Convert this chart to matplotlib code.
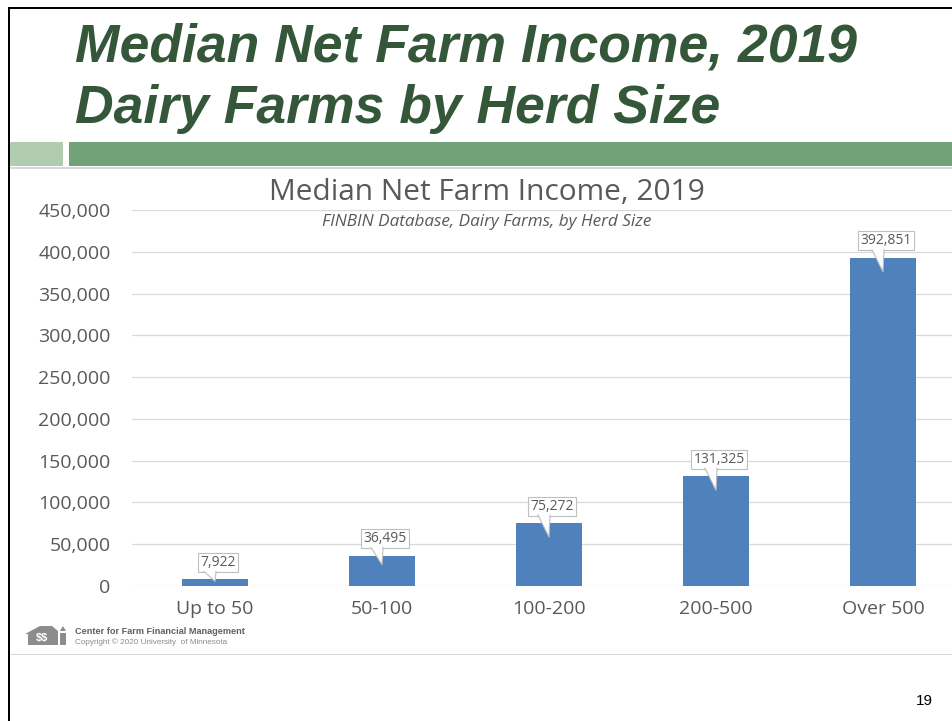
import matplotlib.pyplot as plt
from matplotlib.patches import Polygon, Rectangle
from matplotlib.transforms import Affine2D

# data
herd_sizes = ['Up to 50', '50-100', '100-200', '200-500', 'Over 500']
net_income = [7922, 36495, 75272, 131325, 392851]
y_ticks = [0, 50000, 100000, 150000, 200000, 250000, 300000, 350000, 400000, 450000]

W, H = 952, 721
fig = plt.figure(figsize=(W / 100, H / 100), dpi=100)
# pixel coords measured from top-left of the slide
T = Affine2D().scale(1, -1).translate(0, H)

# --- slide frame / header
fig.add_artist(Rectangle((8, 7), W, 2, transform=T, color='black', lw=0))
fig.add_artist(Rectangle((8, 7), 2, H, transform=T, color='black', lw=0))
fig.add_artist(Rectangle((10, 142), 53, 24, transform=T, color='#B0CDB0', lw=0))
fig.add_artist(Rectangle((69, 142), W - 69, 24, transform=T, color='#72A378', lw=0))
fig.add_artist(Rectangle((10, 167), W, 1.5, transform=T, color='#d9d9d9', lw=0))
fig.add_artist(Rectangle((10, 654), W, 1.2, transform=T, color='#d9d9d9', lw=0))

title_kw = dict(transform=T, fontsize=38.5, fontstyle='italic', fontweight='bold',
                family='Liberation Sans', color='#34573A', va='baseline', ha='left')
fig.text(75, 61, 'Median Net Farm Income, 2019', **title_kw)
fig.text(75, 123, 'Dairy Farms by Herd Size', **title_kw)

fig.text(924, 705, '19', transform=T, fontsize=11, family='Liberation Sans',
         ha='center', va='baseline')

# --- logo + credit
fig.add_artist(Polygon([(25, 634), (40, 626), (52, 626), (58, 631), (58, 645),
                        (28, 645), (28, 634)], transform=T, color='#8c8c8c', lw=0))
fig.text(42, 641, r'\$\$', transform=T, fontsize=8, fontweight='bold', color='white',
         ha='center', va='baseline', family='Liberation Sans')
fig.add_artist(Rectangle((60, 633), 6, 12, transform=T, color='#8c8c8c', lw=0))
fig.add_artist(Polygon([(60, 631), (63, 626), (66, 631)], transform=T,
                       color='#8c8c8c', lw=0))
fig.text(75, 634, 'Center for Farm Financial Management', transform=T, fontsize=6.6,
         fontweight='bold', color='#606060', family='Liberation Sans', va='baseline')
fig.text(75, 644, 'Copyright \u00a9 2020 University  of Minnesota', transform=T,
         fontsize=5.9, color='#8c8c8c', family='Liberation Sans', va='baseline')

# --- chart
plt.rcParams['font.family'] = ['Open Sans', 'DejaVu Sans']
# category slots are 167 px wide, the last one runs off the slide edge
ax = fig.add_axes([131.5 / W, 1 - 586 / H, 835 / W, 376 / H])
x = list(range(len(herd_sizes)))
ax.bar(x, net_income, width=0.40, color='#4F81BD', zorder=3)
ax.set_xlim(-0.5, 4.5)
ax.set_ylim(0, 450000)
ax.set_yticks(y_ticks)
ax.set_yticklabels(['{:,}'.format(v) for v in y_ticks])
ax.set_xticks(x)
ax.set_xticklabels(herd_sizes)
ax.tick_params(length=0, labelsize=14, colors='#595959')
ax.tick_params(axis='y', pad=15)
ax.tick_params(axis='x', pad=10)
ax.grid(axis='y', color='#d9d9d9', lw=0.9, zorder=0)
for s in ax.spines.values():
    s.set_visible(False)

fig.text(487, 200, 'Median Net Farm Income, 2019', transform=T, fontsize=21.5,
         color='#595959', ha='center', va='baseline')
fig.text(487, 226, 'FINBIN Database, Dairy Farms, by Herd Size', transform=T,
         fontsize=12.3, fontstyle='italic', color='#595959', ha='center', va='baseline')

# callouts
px = 1 / 167            # data units per pixel along x
py = 450000 / 376       # data units per pixel along y
for xi, v in zip(x, net_income):
    ax.text(xi + 3 * px, v + 17 * py, '{:,}'.format(v), ha='center', va='center',
            fontsize=10, color='#595959', zorder=6, clip_on=False,
            bbox=dict(boxstyle='square,pad=0.15', fc='white', ec='#bfbfbf', lw=0.8))
    base_l = (xi - 11 * px, v + 8.6 * py)
    base_r = (xi + 1 * px, v + 8.6 * py)
    tip = (xi, v - min(14 * py, v * 0.3))   # short bars get a short pointer
    ax.add_patch(Polygon([base_l, base_r, tip], closed=True, fc='white', ec='none',
                         zorder=7, clip_on=False))
    ax.plot([base_l[0], tip[0], base_r[0]], [base_l[1] - 0.6 * py, tip[1], base_r[1] - 0.6 * py],
            color='#bfbfbf', lw=0.8, zorder=8, clip_on=False)

fig.savefig('out.png', dpi=100)
